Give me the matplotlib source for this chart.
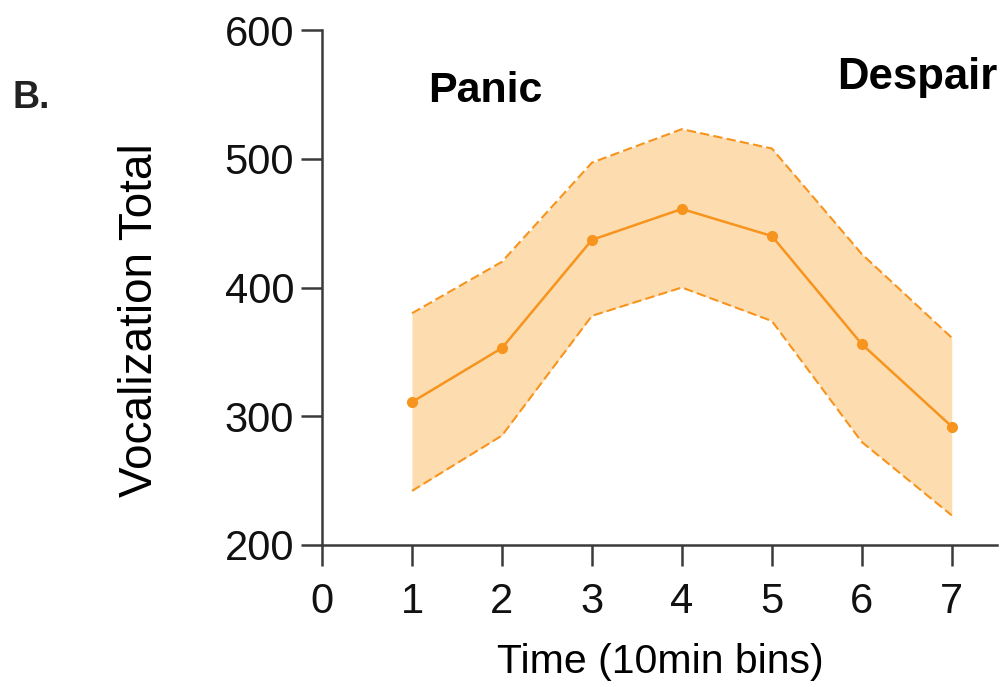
import numpy as np
import matplotlib.pyplot as plt

plt.rcParams['font.family'] = ['Liberation Sans', 'DejaVu Sans']

# 数据：每10分钟区间的发声总数（均值与上下界）
time_bins = [1, 2, 3, 4, 5, 6, 7]
vocal_mean = [311, 353, 437, 461, 440, 356, 292]
vocal_upper = [380, 420, 497, 523, 508, 426, 361]
vocal_lower = [242, 285, 378, 400, 374, 280, 223]

x_ticks = [0, 1, 2, 3, 4, 5, 6, 7]
y_ticks = [200, 300, 400, 500, 600]

line_color = '#F7941D'
fill_color = '#FDDCAF'
axis_color = '#3a3a3a'

fig = plt.figure(figsize=(10.07, 6.87), dpi=100)
ax = fig.add_axes([0.3198, 0.2067, 0.670, 0.7496])

ax.fill_between(time_bins, vocal_lower, vocal_upper, color=fill_color, linewidth=0, zorder=1)
ax.plot(time_bins, vocal_upper, color=line_color, linestyle=(0, (4.5, 2)), linewidth=1.5, zorder=2)
ax.plot(time_bins, vocal_lower, color=line_color, linestyle=(0, (4.5, 2)), linewidth=1.5, zorder=2)
ax.plot(time_bins, vocal_mean, color=line_color, linewidth=1.8, marker='o', markersize=7, zorder=3)

ax.set_xlim(0, 7.5)
ax.set_ylim(200, 600)
ax.set_xticks(x_ticks)
ax.set_yticks(y_ticks)

for side in ['top', 'right']:
    ax.spines[side].set_visible(False)
for side in ['left', 'bottom']:
    ax.spines[side].set_linewidth(1.8)
    ax.spines[side].set_color(axis_color)

ax.tick_params(axis='both', direction='out', length=15, width=1.8, color=axis_color,
               labelsize=30, labelcolor='#111111', pad=5)
ax.tick_params(axis='x', pad=12)

# 轴标题位置按参考图手动放置
ax.set_xlabel('Time (10min bins)', fontsize=29.5, va='center')
ax.set_ylabel('Vocalization Total', fontsize=33, va='center')
ax.xaxis.set_label_coords(0.656, 0.036, transform=fig.transFigure)
ax.yaxis.set_label_coords(0.139, 0.534, transform=fig.transFigure)

fig.text(0.012, 0.843, 'B.', fontsize=27, fontweight='bold', color='#222222')
fig.text(0.425, 0.852, 'Panic', fontsize=31, fontweight='bold')
fig.text(0.831, 0.870, 'Despair', fontsize=31.5, fontweight='bold')

fig.savefig('out.png', dpi=100)
